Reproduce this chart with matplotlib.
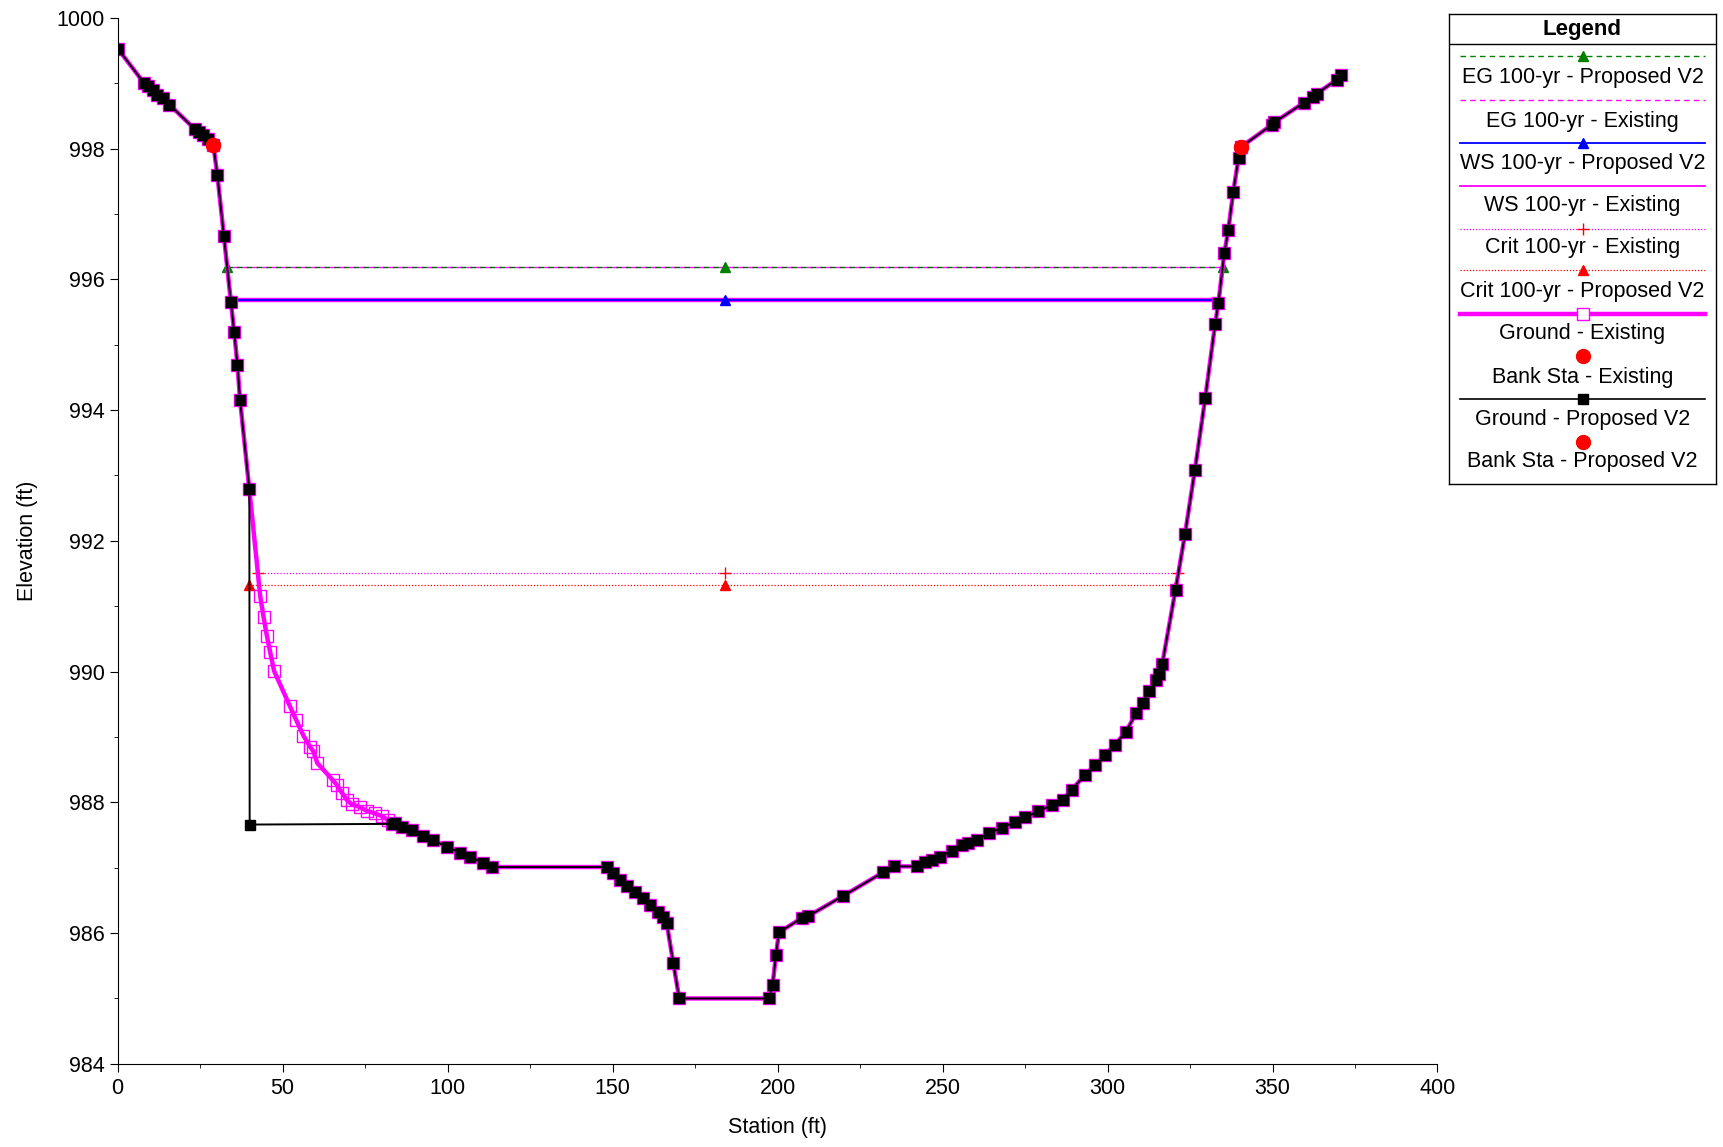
import numpy as np
import matplotlib
matplotlib.use('Agg')
import matplotlib.pyplot as plt
from matplotlib.ticker import MultipleLocator

plt.rcParams['font.family'] = ['Liberation Sans', 'DejaVu Sans']

# ground points shared by both geometries (left overbank)
left_sta = [0, 8.0, 9.3, 10.7, 12.0, 13.7, 15.7, 23.3, 24.7, 26.0, 27.3, 29.0,
            30.2, 32.2, 34.3, 35.3, 36.3, 37.1, 39.9]
left_elev = [999.53, 999.0, 998.95, 998.89, 998.82, 998.77, 998.67, 998.30, 998.25,
             998.20, 998.15, 998.05, 997.6, 996.66, 995.66, 995.2, 994.69, 994.15, 992.79]

# left slope, proposed cut
prop_mid_sta = [40.0, 83.0]
prop_mid_elev = [987.66, 987.67]

# left slope, existing
exist_mid_sta = [43.2, 44.2, 45.2, 46.2, 47.4, 52.2, 54.1, 56.3, 58.3, 59.3, 60.5,
                 65.2, 66.4, 67.9, 69.4, 70.9, 73.3, 75.5, 78.0, 80.0, 82.0, 83.0]
exist_mid_elev = [991.15, 990.84, 990.55, 990.30, 990.01, 989.47, 989.26, 989.02,
                  988.85, 988.78, 988.60, 988.34, 988.27, 988.15, 988.04, 987.97,
                  987.93, 987.87, 987.83, 987.79, 987.73, 987.67]

# channel and right overbank, shared
right_sta = [84.1, 86.1, 89.1, 92.6, 95.7, 99.7, 103.8, 106.8, 110.8, 113.4, 148.4,
             150.2, 152.2, 154.3, 156.8, 159.3, 161.3, 163.8, 165.4, 166.4, 168.4,
             170.2, 197.4, 198.5, 199.5, 200.4, 207.3, 209.3, 219.9, 232.0, 235.3,
             242.2, 244.7, 246.7, 249.2, 252.8, 255.8, 257.8, 260.3, 264.2, 267.9,
             271.9, 275.0, 279.0, 283.1, 286.4, 289.1, 293.2, 296.2, 299.2, 302.2,
             305.6, 308.6, 310.6, 312.6, 314.6, 315.7, 316.6, 320.6, 323.5, 326.5,
             329.6, 332.6, 333.6, 335.4, 336.6, 338.1, 339.7, 340.3, 349.7, 350.5,
             359.5, 362.3, 363.4, 369.4, 370.9]
right_elev = [987.68, 987.63, 987.58, 987.49, 987.42, 987.32, 987.23, 987.17, 987.07,
              987.01, 987.01, 986.92, 986.81, 986.72, 986.63, 986.53, 986.43, 986.33,
              986.25, 986.15, 985.54, 985.0, 985.0, 985.21, 985.66, 986.01, 986.23,
              986.26, 986.57, 986.93, 987.02, 987.02, 987.08, 987.12, 987.17, 987.26,
              987.34, 987.38, 987.42, 987.53, 987.61, 987.70, 987.77, 987.86, 987.96,
              988.04, 988.19, 988.42, 988.57, 988.72, 988.88, 989.08, 989.36, 989.52,
              989.71, 989.87, 989.96, 990.12, 991.25, 992.11, 993.09, 994.18, 995.31,
              995.64, 996.40, 996.75, 997.34, 997.85, 998.02, 998.36, 998.40, 998.70,
              998.79, 998.84, 999.05, 999.12]

sta_prop = left_sta + prop_mid_sta + right_sta
elev_prop = left_elev + prop_mid_elev + right_elev
sta_exist = left_sta + exist_mid_sta + right_sta
elev_exist = left_elev + exist_mid_elev + right_elev

bank_sta = [29.0, 340.3]
bank_elev = [998.05, 998.02]

mid_sta = 184.0
eg_elev = 996.19
eg_lim = [33.2, 335.1]
ws_elev = 995.69
ws_lim = [34.3, 333.8]
crit_exist_elev = 991.51
crit_exist_lim = [42.6, 321.5]
crit_prop_elev = 991.32
crit_prop_lim = [39.9, 320.8]


def wsline(lim):
    return [lim[0], mid_sta, lim[1]]


fig = plt.figure(figsize=(17.23, 11.47), dpi=100)
ax = fig.add_axes([0.0683, 0.0725, 0.766, 0.912])

# water surfaces
ax.plot(wsline(eg_lim), [eg_elev] * 3, color='magenta', lw=1, ls=(3, (4, 3)))
ax.plot(wsline(eg_lim), [eg_elev] * 3, color='#006400', lw=1, ls=(0, (4, 3)),
        marker='^', ms=7, mfc='green', mec='green')
ax.plot(wsline(ws_lim), [ws_elev] * 3, color='magenta', lw=3.2)
ax.plot(wsline(ws_lim), [ws_elev] * 3, color='blue', lw=1.3,
        marker='^', ms=7, mfc='blue', mec='blue')
ax.plot(wsline(crit_exist_lim), [crit_exist_elev] * 3, color='magenta', lw=0.9,
        ls=(0, (1, 1.5)), marker='+', ms=8, mec='red', mew=1)
ax.plot(wsline(crit_prop_lim), [crit_prop_elev] * 3, color='red', lw=0.9,
        ls=(0, (1, 1.5)), marker='^', ms=7, mfc='red', mec='red')

# ground
ax.plot(sta_exist, elev_exist, color='magenta', lw=3.2, marker='s', ms=8,
        mfc='none', mec='magenta', mew=1)
ax.plot(sta_prop, elev_prop, color='black', lw=1.4, marker='s', ms=6.5,
        mfc='black', mec='black')
ax.plot(bank_sta, bank_elev, ls='none', marker='o', ms=10, color='red')
ax.plot(bank_sta, bank_elev, ls='none', marker='o', ms=10, color='red')

ax.set_xlim(0, 400)
ax.set_ylim(984, 1000)
ax.xaxis.set_major_locator(MultipleLocator(50))
ax.xaxis.set_minor_locator(MultipleLocator(25))
ax.yaxis.set_major_locator(MultipleLocator(2))
ax.yaxis.set_minor_locator(MultipleLocator(1))
ax.tick_params(which='major', length=6, labelsize=15.5, direction='out')
ax.tick_params(axis='x', which='major', pad=4)
ax.tick_params(which='minor', length=3, direction='out')
ax.spines['top'].set_visible(False)
ax.spines['right'].set_visible(False)
ax.set_xlabel('Station (ft)', fontsize=15.5, labelpad=13)
ax.set_ylabel('Elevation (ft)', fontsize=15.5, labelpad=13)

# legend box: line sample above each label
lg = fig.add_axes([1449 / 1723, 1 - 484 / 1147, 267 / 1723, 470 / 1147])
lg.set_xlim(1449, 1716)
lg.set_ylim(484, 14)
lg.set_xticks([])
lg.set_yticks([])
for s in lg.spines.values():
    s.set_linewidth(1)
lg.text(1582.5, 29, 'Legend', ha='center', va='center', fontsize=16, fontweight='bold')
lg.plot([1449, 1716], [44, 44], color='black', lw=1)

x0, x1, xc = 1459.5, 1704.5, 1582.5
entries = [
    ('EG 100-yr - Proposed V2', 56, 78, dict(color='green', lw=1, ls=(0, (4, 3))),
     dict(marker='^', ms=7, color='green')),
    ('EG 100-yr - Existing', 100, 121, dict(color='magenta', lw=1, ls=(0, (4, 3))), None),
    ('WS 100-yr - Proposed V2', 143, 164, dict(color='blue', lw=1.3),
     dict(marker='^', ms=7, color='blue')),
    ('WS 100-yr - Existing', 186, 205, dict(color='magenta', lw=1.3), None),
    ('Crit 100-yr - Existing', 229, 248, dict(color='magenta', lw=0.9, ls=(0, (1, 1.5))),
     dict(marker='+', ms=8, color='red', mew=1)),
    ('Crit 100-yr - Proposed V2', 270, 291, dict(color='red', lw=0.9, ls=(0, (1, 1.5))),
     dict(marker='^', ms=7, color='red')),
    ('Ground - Existing', 314, 334, dict(color='magenta', lw=3.2),
     dict(marker='s', ms=8, mfc='white', mec='magenta', mew=1)),
    ('Bank Sta - Existing', None, 377, None, dict(marker='o', ms=10, color='red')),
    ('Ground - Proposed V2', 399, 419, dict(color='black', lw=1.2),
     dict(marker='s', ms=6.5, color='black')),
    ('Bank Sta - Proposed V2', None, 461, None, dict(marker='o', ms=10, color='red')),
]
marker_y = {'Bank Sta - Existing': 356, 'Bank Sta - Proposed V2': 442}
for label, ly, ty, line_kw, mk_kw in entries:
    if line_kw is not None:
        lg.plot([x0, x1], [ly, ly], **line_kw)
    if mk_kw is not None:
        my = ly if ly is not None else marker_y[label]
        lg.plot([xc], [my], ls='none', **mk_kw)
    lg.text(xc, ty, label, ha='center', va='center', fontsize=15.5)

fig.savefig('out.png', dpi=100)
